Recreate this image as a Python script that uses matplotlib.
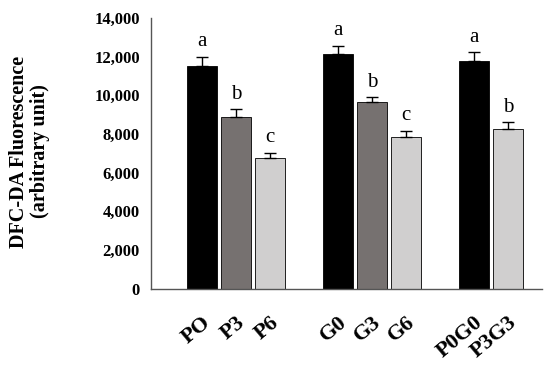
import numpy as np
import matplotlib.pyplot as plt

labels = ["PO", "P3", "P6", "G0", "G3", "G6", "P0G0", "P3G3"]
values = [11500, 8900, 6750, 12150, 9650, 7850, 11800, 8250]
errors = [500, 370, 280, 420, 260, 330, 430, 350]
letters = ["a", "b", "c", "a", "b", "c", "a", "b"]
slots = [0, 1, 2, 4, 5, 6, 8, 9]
colors = ["#000000", "#767170", "#d0cfcf", "#000000", "#767170", "#d0cfcf",
          "#000000", "#d0cfcf"]

plt.rcParams['font.family'] = ['Liberation Serif', 'DejaVu Serif']

fig = plt.figure(figsize=(5.5, 3.65), dpi=100)
ax = fig.add_axes([0.2745, 0.209, 0.711, 0.7417])

x = np.array(slots, dtype=float)
ax.bar(x, values, width=0.9, color=colors, edgecolor="black", linewidth=0.6)
ax.errorbar(x, values, yerr=[np.zeros(len(errors)), errors], fmt="none",
            ecolor="black", elinewidth=1.0, capsize=4, capthick=1.0)

for xi, v, e, t in zip(x, values, errors, letters):
    ax.annotate(t, (xi, v + e), xytext=(0, 4), textcoords="offset points",
                ha="center", va="bottom", fontsize=15)

ax.set_xlim(-1.5, 10)
ax.set_ylim(0, 14000)
ax.set_yticks(np.arange(0, 14001, 2000))
ax.set_yticklabels([f"{v:,}" for v in range(0, 14001, 2000)],
                   fontsize=12, fontweight="bold")
ax.set_xticks(x)
ax.set_xticklabels(labels, rotation=40, ha="right", rotation_mode="anchor",
                   fontsize=16, fontweight="bold")
ax.tick_params(axis="both", length=0)
ax.tick_params(axis="x", pad=17)
ax.tick_params(axis="y", pad=8)

for s in ["top", "right"]:
    ax.spines[s].set_visible(False)
for s in ["left", "bottom"]:
    ax.spines[s].set_color("#555555")
    ax.spines[s].set_linewidth(1.0)

fig.text(0.053, 0.585, "DFC-DA Fluorescence\n(arbitrary unit)", rotation=90,
         ha="center", va="center", fontsize=14.5, fontweight="bold",
         multialignment="center", linespacing=1.05)

fig.savefig("out.png", dpi=100)
